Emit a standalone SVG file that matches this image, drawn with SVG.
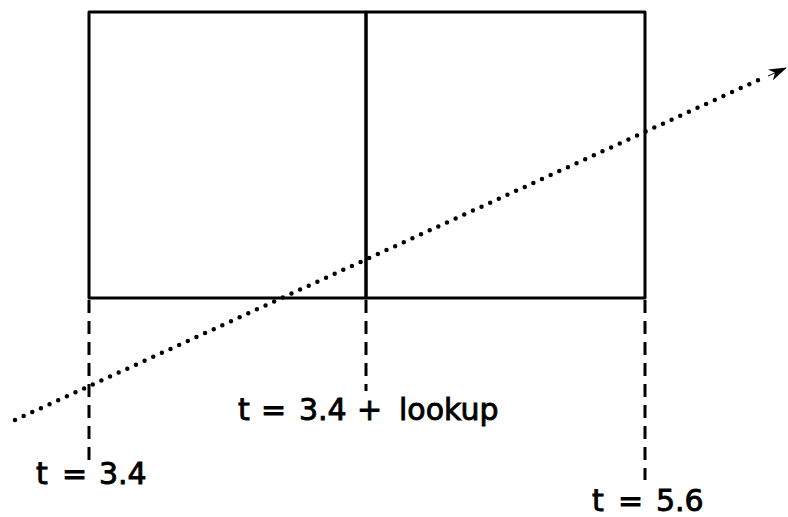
<svg xmlns="http://www.w3.org/2000/svg" width="788" height="517" viewBox="0 0 788 517">
<style>
.box{fill:none;stroke:#000;stroke-width:3;stroke-linejoin:round}
.dash{fill:none;stroke:#000;stroke-width:3;stroke-dasharray:13 8}
.ray{fill:none;stroke:#000;stroke-width:4.5;stroke-linecap:round;stroke-dasharray:0 9.5}
.lbl{font-family:"DejaVu Sans",sans-serif;font-size:30px;fill:#000;stroke:#000;stroke-width:0.9}
</style>
<defs>
<marker id="ah" viewBox="0 0 18 12" refX="17" refY="6" markerWidth="18" markerHeight="12" markerUnits="userSpaceOnUse" orient="auto">
<path d="M0,0 L18,6 L0,12 L5,6 Z" fill="#000"/>
</marker>
</defs>
<rect width="788" height="517" fill="#fff"/>
<g id="cell-left"><rect class="box" x="89" y="12" width="277" height="286"/></g>
<g id="cell-right"><rect class="box" x="366" y="12" width="279" height="286"/></g>
<g id="connectors">
<line class="dash" x1="89" y1="300" x2="89" y2="468"/>
<line class="dash" x1="366" y1="300" x2="366" y2="391"/>
<line class="dash" x1="645" y1="300" x2="645" y2="480"/>
<line class="ray" x1="15" y1="420" x2="765" y2="77"/>
<line x1="768" y1="76" x2="786" y2="68" stroke="#000" stroke-width="1" marker-end="url(#ah)"/>
</g>
<g id="labels" class="lbl">
<text x="238" y="420"><tspan x="238">t</tspan><tspan x="261">=</tspan><tspan x="299">3.4</tspan><tspan x="357">+</tspan><tspan x="399">lookup</tspan></text>
<text x="36" y="484"><tspan x="36">t</tspan><tspan x="62">=</tspan><tspan x="99">3.4</tspan></text>
<text x="592" y="511"><tspan x="592">t</tspan><tspan x="618">=</tspan><tspan x="656">5.6</tspan></text>
</g>
</svg>
